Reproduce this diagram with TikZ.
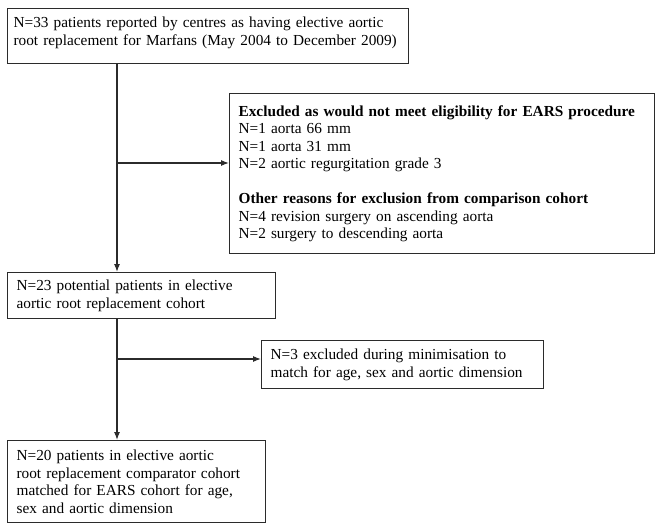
\documentclass[tikz,border=0pt]{standalone}
\usepackage{fontspec}
\setmainfont{Liberation Serif}
\usetikzlibrary{positioning,arrows.meta}
\definecolor{frame}{HTML}{2B2B2B}
\tikzset{
  box/.style={draw=frame,line width=1.2pt,anchor=north west,align=left,
    inner xsep=9pt,inner ysep=0pt,font=\fontsize{15.3}{17.5}\selectfont},
  flow/.style={draw=frame,line width=1.1pt,-{Latex[length=8pt,width=6pt]}}
}
\begin{document}
\begin{tikzpicture}[x=1pt,y=-1pt]
  \useasboundingbox (0,0) rectangle (656,524);
  % cohort boxes on the left
  \node[box,inner xsep=6pt,inner ysep=5pt,text width=389pt,text height=14pt,text depth=31pt]
    (reported) at (7,8)
    {N=33 patients reported by centres as having elective aortic\\
     root replacement for Marfans (May 2004 to December 2009)};
  \node[box,text width=250pt,minimum height=46pt] (potential) at (7,272)
    {N=23 potential patients in elective\\
     aortic root replacement cohort};
  \node[box,text width=240pt,minimum height=82pt] (matched) at (7,440)
    {N=20 patients in elective aortic\\
     root replacement comparator cohort\\
     matched for EARS cohort for age,\\
     sex and aortic dimension};
  % exclusion boxes on the right
  \node[box,text width=407pt,minimum height=160pt] (excluded) at (229,93)
    {\textbf{Excluded as would not meet eligibility for EARS procedure}\\
     N=1 aorta 66 mm\\
     N=1 aorta 31 mm\\
     N=2 aortic regurgitation grade 3\\[17.5pt]
     \textbf{Other reasons for exclusion from comparison cohort}\\
     N=4 revision surgery on ascending aorta\\
     N=2 surgery to descending aorta};
  \node[box,text width=264pt,minimum height=48pt] (minimised) at (261,340)
    {N=3 excluded during minimisation to\\
     match for age, sex and aortic dimension};
  % trunk and branches
  \coordinate (trunk) at (117,0);
  \coordinate (split1) at (117,163);
  \coordinate (split2) at (117,359);
  \draw[flow] (reported.south -| trunk) -- (potential.north -| trunk);
  \draw[flow] (potential.south -| trunk) -- (matched.north -| trunk);
  \draw[flow] (split1) -- (split1 -| excluded.west);
  \draw[flow] (split2) -- (split2 -| minimised.west);
\end{tikzpicture}
\end{document}
